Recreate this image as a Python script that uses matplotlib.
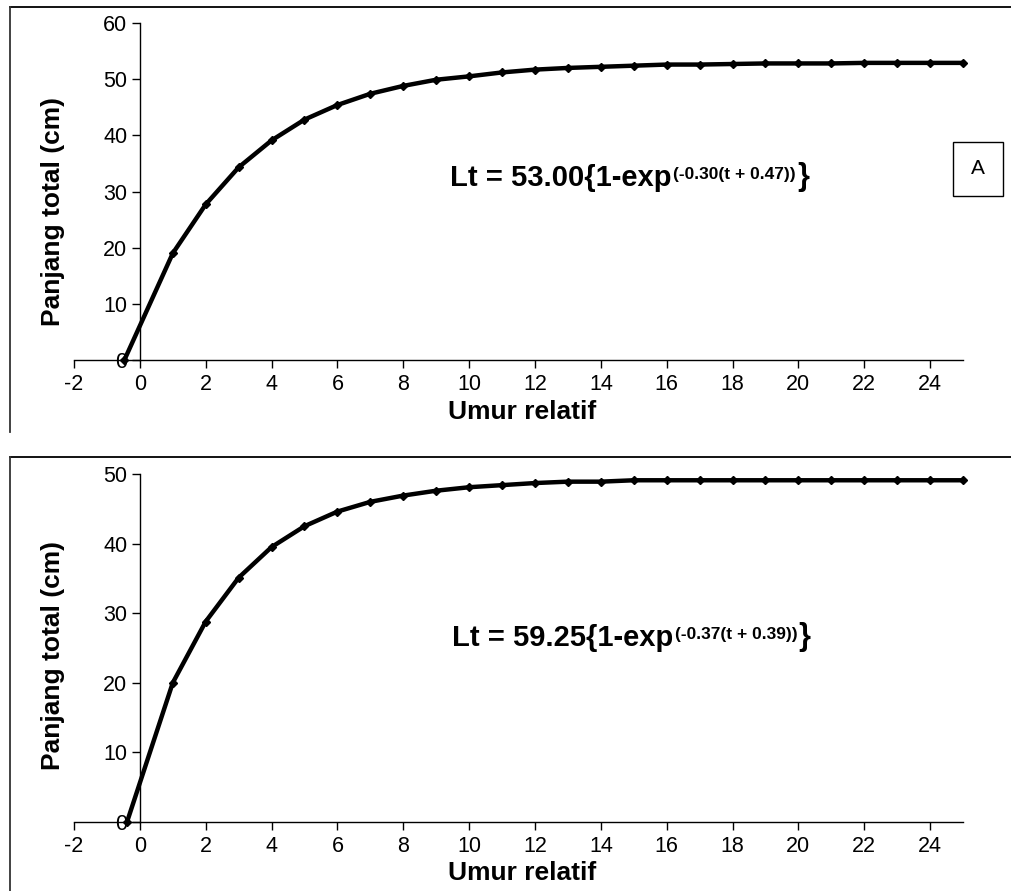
"""Von Bertalanffy growth curves (panjang total vs umur relatif), two panels."""

from __future__ import annotations

import matplotlib

matplotlib.use("Agg")
import matplotlib.pyplot as plt
from matplotlib.lines import Line2D

plt.rcParams["axes.unicode_minus"] = False

# panel A
age_a = [-0.47, 1, 2, 3, 4, 5, 6, 7, 8, 9, 10, 11, 12, 13, 14, 15, 16, 17, 18, 19, 20, 21, 22, 23, 24, 25]
length_a = [0.0, 19.0, 27.7, 34.3, 39.1, 42.8, 45.4, 47.4, 48.8, 49.9, 50.5, 51.2, 51.7, 52.0,
            52.2, 52.4, 52.6, 52.6, 52.7, 52.8, 52.8, 52.8, 52.9, 52.9, 52.9, 52.9]
eq_a_main = "Lt = 53.00{1-exp"
eq_a_sup = "(-0.30(t + 0.47))"
yticks_a = [0, 10, 20, 30, 40, 50, 60]

# panel B
age_b = [-0.39, 1, 2, 3, 4, 5, 6, 7, 8, 9, 10, 11, 12, 13, 14, 15, 16, 17, 18, 19, 20, 21, 22, 23, 24, 25]
length_b = [0.0, 20.0, 28.8, 35.1, 39.5, 42.5, 44.6, 46.0, 46.9, 47.6, 48.1, 48.4, 48.7, 48.9,
            48.9, 49.1, 49.1, 49.1, 49.1, 49.1, 49.1, 49.1, 49.1, 49.1, 49.1, 49.1]
eq_b_main = "Lt = 59.25{1-exp"
eq_b_sup = "(-0.37(t + 0.39))"
yticks_b = [0, 10, 20, 30, 40, 50]

xticks = list(range(-2, 25, 2))
xlabel = "Umur relatif"
ylabel = "Panjang total (cm)"

W, H = 1011, 891
FONT = ["Liberation Sans", "DejaVu Sans"]


def fx(px):
    return px / W


def fy(py):
    return 1.0 - py / H


def draw_panel(fig, top, bottom, ages, lengths, yticks, eq_main, eq_sup, eq_xy, label_y, xlabel_y):
    ax = fig.add_axes([fx(74), fy(bottom), fx(963) - fx(74), fy(top) - fy(bottom)])
    ax.plot(ages, lengths, color="black", linewidth=3.2, marker="D", markersize=4.5,
            markerfacecolor="black", clip_on=False, zorder=3)
    ax.set_xlim(-2, 25)
    ax.set_ylim(0, yticks[-1])
    ax.set_xticks(xticks)
    ax.set_yticks(yticks)
    for s in ("top", "right"):
        ax.spines[s].set_visible(False)
    ax.spines["left"].set_position(("data", 0))
    ax.spines["left"].set_linewidth(1.0)
    ax.spines["bottom"].set_linewidth(1.0)
    ax.tick_params(axis="both", direction="out", length=6, width=1.0, labelsize=15.5, colors="black")
    ax.tick_params(axis="y", pad=3)
    ax.tick_params(axis="x", pad=4)
    for lab in ax.get_xticklabels() + ax.get_yticklabels():
        lab.set_family(FONT)
    ax.patch.set_alpha(0)

    fig.text(fx(53), fy(label_y), ylabel, rotation=90, ha="center", va="center",
             fontsize=19, fontweight="bold", family=FONT)
    fig.text(fx(522), fy(xlabel_y), xlabel, ha="center", va="center",
             fontsize=19, fontweight="bold", family=FONT)

    main = fig.text(fx(eq_xy[0]), fy(eq_xy[1]), eq_main, ha="left", va="baseline",
                    fontsize=21, fontweight="bold", family=FONT)
    sup = plt.annotate(eq_sup, xy=(1, 0), xycoords=main, xytext=(1, 9), textcoords="offset points",
                       ha="left", va="baseline", fontsize=12.5, fontweight="bold", family=FONT,
                       annotation_clip=False)
    plt.annotate("}", xy=(1, 0), xycoords=(sup, main), xytext=(1, 0), textcoords="offset points",
                 ha="left", va="bottom", fontsize=22, fontweight="bold", family=FONT,
                 annotation_clip=False)
    return ax


def frame(fig, top_px, bottom_px):
    fig.add_artist(Line2D([fx(10), 1.0], [fy(top_px), fy(top_px)], color="black", linewidth=1.3))
    fig.add_artist(Line2D([fx(10), fx(10)], [fy(top_px), fy(bottom_px)], color="#333333", linewidth=1.3))


def main() -> None:
    fig = plt.figure(figsize=(W / 100, H / 100), dpi=100)
    fig.patch.set_facecolor("white")

    frame(fig, 7, 432)
    frame(fig, 457, 891)

    draw_panel(fig, 23, 360, age_a, length_a, yticks_a, eq_a_main, eq_a_sup, (450, 186), 212, 412)
    draw_panel(fig, 474, 822, age_b, length_b, yticks_b, eq_b_main, eq_b_sup, (452, 646), 655, 873)

    fig.text(fx(978), fy(169), "A", ha="center", va="center", fontsize=15, family=FONT,
             bbox=dict(boxstyle="square,pad=0.85", facecolor="white", edgecolor="black", linewidth=1.0))

    fig.savefig("out.png", dpi=100, facecolor="white")
    plt.close(fig)


if __name__ == "__main__":
    main()
